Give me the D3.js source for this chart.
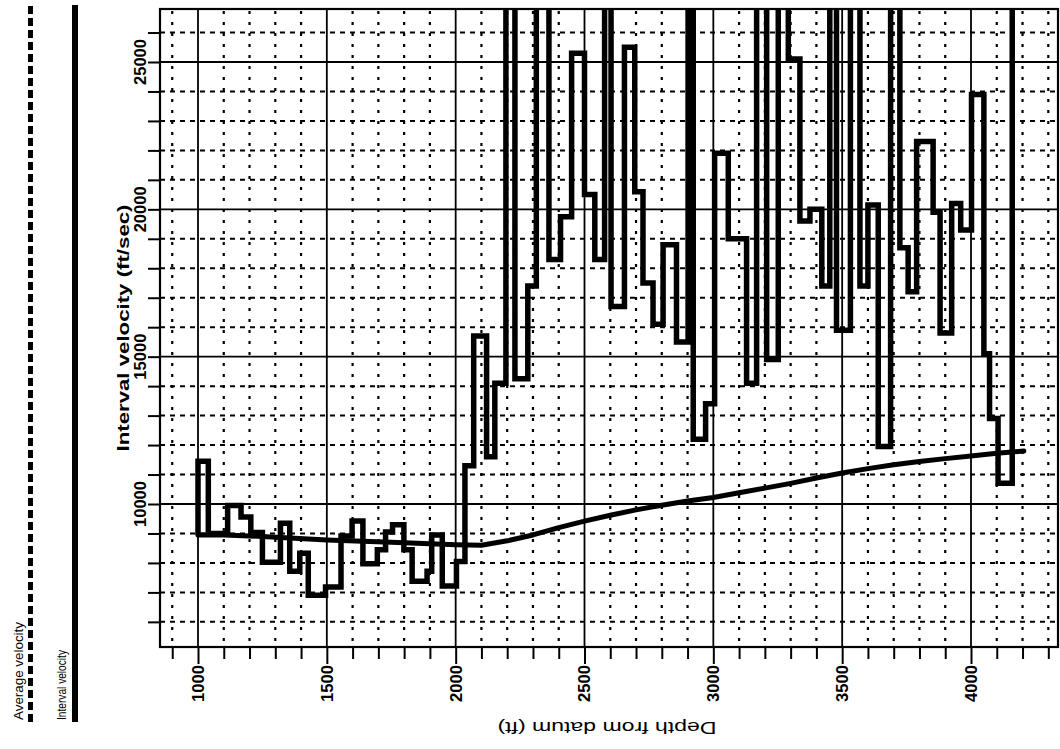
<!DOCTYPE html>
<html>
<head>
<meta charset="utf-8">
<script src="https://cdn.jsdelivr.net/npm/d3@7"></script>
<style>
  html, body { margin: 0; padding: 0; background: #fff; }
  svg { display: block; }
  text { font-family: "Liberation Sans", Arial, sans-serif; fill: #000; }
</style>
</head>
<body>
<svg id="chart" width="1060" height="749"></svg>
<script>
// Interval tops (ft below datum) and the interval velocity of each (ft/sec).
// Intervals faster than the top of the plot run off the frame and are clipped.
const intervalTop = [
  1000, 1040, 1115, 1167, 1205, 1250, 1320, 1356, 1395, 1428,
  1495, 1555, 1598, 1640, 1696, 1728, 1755, 1799, 1831, 1889,
  1907, 1948, 2003, 2036, 2070, 2120, 2152, 2195, 2230, 2280,
  2313, 2362, 2407, 2450, 2500, 2540, 2578, 2603, 2655, 2695,
  2727, 2766, 2805, 2857, 2902, 2922, 2970, 3005, 3058, 3129,
  3168, 3207, 3252, 3291, 3336, 3375, 3421, 3452, 3478, 3532,
  3569, 3600, 3640, 3688, 3724, 3756, 3789, 3853, 3880, 3925,
  3960, 4002, 4050, 4072, 4105, 4160
];
const intervalVelocity = [
  11450, 9000, 9950, 9560, 9030, 8020, 9350, 7720, 8330, 6900,
  7180, 8910, 9420, 7970, 8450, 9050, 9300, 8450, 7380, 7720,
  8950, 7220, 8050, 11300, 15700, 11600, 14100, 30000, 14250, 17400,
  30000, 18300, 19750, 25300, 20500, 18300, 30000, 16700, 25500, 20600,
  17500, 16100, 18800, 15500, 30000, 12200, 13400, 21900, 19000, 14100,
  30000, 14900, 30000, 25100, 19600, 20000, 17400, 30000, 15900, 30000,
  17400, 20150, 11950, 30000, 18700, 17200, 22300, 19900, 15800, 20200,
  19300, 23900, 15100, 12900, 10700, 30000
];

// Average velocity from datum down to each depth.
const avgDepth = [
  1000, 1100, 1250, 1500, 1750, 2000, 2100, 2200, 2300, 2400,
  2500, 2600, 2700, 2800, 2900, 3000, 3100, 3200, 3300, 3400,
  3500, 3600, 3700, 3800, 3900, 4000, 4100, 4205
];
const avgVelocity = [
  8950, 8950, 8900, 8780, 8700, 8620, 8600, 8750, 8950, 9200,
  9420, 9620, 9800, 9960, 10100, 10220, 10380, 10540, 10700, 10880,
  11050, 11200, 11330, 11440, 11540, 11630, 11720, 11800
];

const depthLabels = [1000, 1500, 2000, 2500, 3000, 3500, 4000];
const velocityLabels = [10000, 15000, 20000, 25000];
const depthTicks = d3.range(900, 4301, 100);
const velocityTicks = d3.range(6000, 26001, 1000);

const svg = d3.select("#chart");
svg.append("rect").attr("width", 1060).attr("height", 749).attr("fill", "#fff");

// Frame of the plot area
const frame = { left: 160, right: 1058, top: 9, bottom: 647 };

// Depth runs left to right, velocity increases upward
const x = d3.scaleLinear().domain([1000, 4000]).range([198, 971]);
const y = d3.scaleLinear().domain([10000, 25000]).range([504, 62]);

svg.append("defs").append("clipPath").attr("id", "plotClip")
  .append("rect")
  .attr("x", frame.left).attr("y", frame.top)
  .attr("width", frame.right - frame.left)
  .attr("height", frame.bottom - frame.top);

const grid = svg.append("g");

// Dotted depth grid every 100 ft, solid every 500 ft
depthTicks.filter(d => d % 500 !== 0).forEach(d => {
  grid.append("line")
    .attr("x1", x(d)).attr("x2", x(d))
    .attr("y1", frame.top + 2).attr("y2", frame.bottom)
    .attr("stroke", "#000").attr("stroke-width", 2.2)
    .attr("stroke-dasharray", "3,8");
});
// Dashed velocity grid every 1000 ft/sec
velocityTicks.filter(v => v % 5000 !== 0).forEach(v => {
  grid.append("line")
    .attr("x1", frame.left).attr("x2", frame.right)
    .attr("y1", y(v)).attr("y2", y(v))
    .attr("stroke", "#000").attr("stroke-width", 2)
    .attr("stroke-dasharray", "5,5");
});
depthLabels.forEach(d => {
  grid.append("line")
    .attr("x1", x(d)).attr("x2", x(d))
    .attr("y1", frame.top).attr("y2", frame.bottom)
    .attr("stroke", "#000").attr("stroke-width", 1.8);
});
velocityLabels.forEach(v => {
  grid.append("line")
    .attr("x1", frame.left).attr("x2", frame.right)
    .attr("y1", y(v)).attr("y2", y(v))
    .attr("stroke", "#000").attr("stroke-width", 1.8);
});

// Frame
svg.append("rect")
  .attr("x", frame.left).attr("y", frame.top)
  .attr("width", frame.right - frame.left)
  .attr("height", frame.bottom - frame.top)
  .attr("fill", "none").attr("stroke", "#000").attr("stroke-width", 2.2);

// Tick marks drawn with d3 axes
const bottomAxis = d3.axisBottom(x).tickValues(depthTicks).tickSize(12).tickFormat("");
const gB = svg.append("g").attr("transform", `translate(0,${frame.bottom})`).call(bottomAxis);
gB.select(".domain").remove();
gB.selectAll(".tick line").attr("stroke", "#000").attr("stroke-width", 2);
gB.selectAll(".tick").filter(d => d % 500 === 0).select("line").attr("y2", 17);

const leftAxis = d3.axisLeft(y).tickValues(velocityTicks).tickSize(12).tickFormat("");
const gL = svg.append("g").attr("transform", `translate(${frame.left},0)`).call(leftAxis);
gL.select(".domain").remove();
gL.selectAll(".tick line").attr("stroke", "#000").attr("stroke-width", 2);

// Tick labels, rotated to read upward
svg.append("g").selectAll("text").data(velocityLabels).join("text")
  .attr("transform", v => `translate(140,${y(v)}) rotate(-90)`)
  .attr("text-anchor", "middle").attr("dy", "0.35em")
  .attr("font-size", 16).attr("font-weight", "bold")
  .attr("textLength", 46).attr("lengthAdjust", "spacingAndGlyphs")
  .text(v => v);

svg.append("g").selectAll("text").data(depthLabels).join("text")
  .attr("transform", d => `translate(${x(d)},665) rotate(-90)`)
  .attr("text-anchor", "end").attr("dy", "0.35em")
  .attr("font-size", 17).attr("font-weight", "bold")
  .attr("textLength", 37).attr("lengthAdjust", "spacingAndGlyphs")
  .text(d => d);

// Axis titles
svg.append("text")
  .attr("transform", "translate(124,328) rotate(-90)")
  .attr("text-anchor", "middle").attr("dy", "0.32em")
  .attr("font-size", 16).attr("font-weight", "bold")
  .attr("textLength", 247).attr("lengthAdjust", "spacingAndGlyphs")
  .text("Interval velocity (ft/sec)");

svg.append("text")
  .attr("transform", "translate(607,728) rotate(180)")
  .attr("text-anchor", "middle").attr("dy", "0.35em")
  .attr("font-size", 17)
  .attr("textLength", 219).attr("lengthAdjust", "spacingAndGlyphs")
  .text("Depth from datum (ft)");

// Curves
const plot = svg.append("g").attr("clip-path", "url(#plotClip)");

const avgPoints = avgDepth.map((d, i) => [d, avgVelocity[i]]);
const avgLine = d3.line().x(p => x(p[0])).y(p => y(p[1])).curve(d3.curveLinear);
plot.append("path").datum(avgPoints)
  .attr("d", avgLine)
  .attr("fill", "none").attr("stroke", "#000")
  .attr("stroke-width", 5).attr("stroke-linecap", "round").attr("stroke-linejoin", "round");

// Interval velocity as a step curve, rising from the average velocity at the first top
const stepPoints = [[intervalTop[0], avgVelocity[0]]]
  .concat(intervalTop.map((d, i) => [d, intervalVelocity[i]]));
const stepLine = d3.line().x(p => x(p[0])).y(p => y(p[1])).curve(d3.curveStepAfter);
plot.append("path").datum(stepPoints)
  .attr("d", stepLine)
  .attr("fill", "none").attr("stroke", "#000")
  .attr("stroke-width", 5.5).attr("stroke-linejoin", "miter");

// Legend
const legend = svg.append("g");
legend.append("text")
  .attr("transform", "translate(18,720) rotate(-90)")
  .attr("dy", "0.35em").attr("font-size", 13)
  .attr("textLength", 98).attr("lengthAdjust", "spacingAndGlyphs")
  .text("Average velocity");
legend.append("line")
  .attr("x1", 30.5).attr("x2", 30.5).attr("y1", 722).attr("y2", 5)
  .attr("stroke", "#000").attr("stroke-width", 5).attr("stroke-dasharray", "8,4");
legend.append("text")
  .attr("transform", "translate(61,720) rotate(-90)")
  .attr("dy", "0.35em").attr("font-size", 13)
  .attr("textLength", 70).attr("lengthAdjust", "spacingAndGlyphs")
  .text("Interval velocity");
legend.append("line")
  .attr("x1", 75).attr("x2", 75).attr("y1", 722).attr("y2", 5)
  .attr("stroke", "#000").attr("stroke-width", 6);
</script>
</body>
</html>
